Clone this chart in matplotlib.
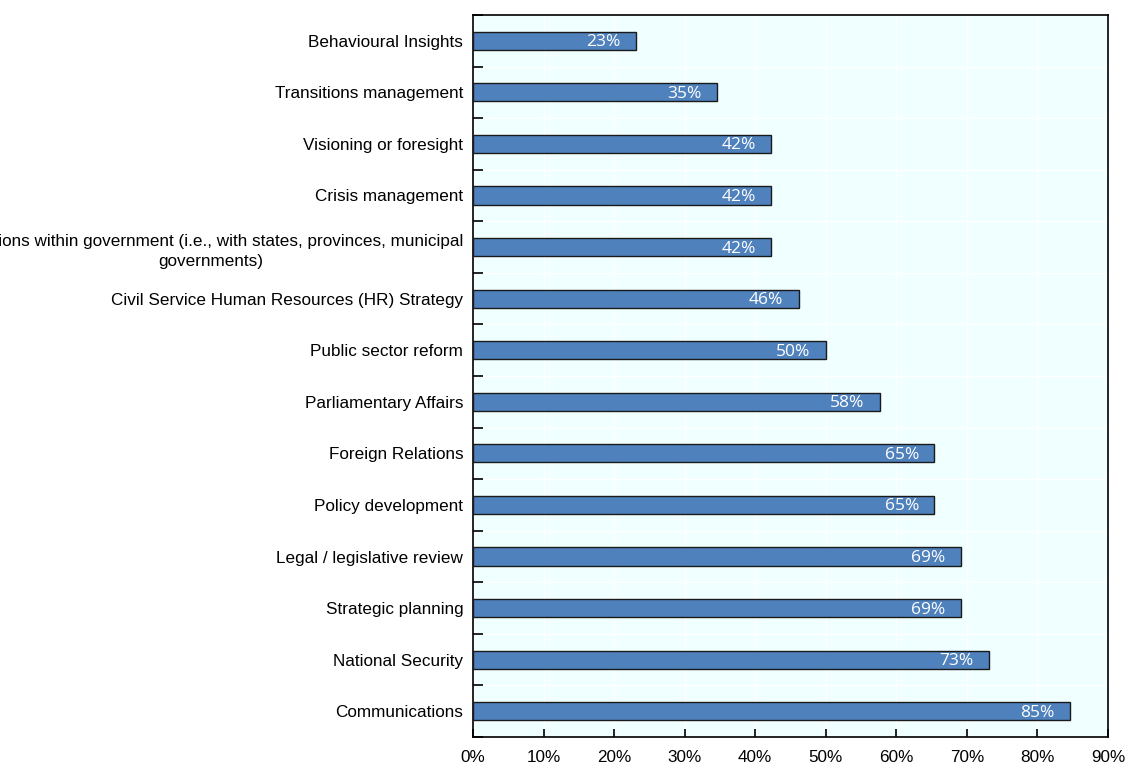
import matplotlib

matplotlib.use("Agg")
import matplotlib.pyplot as plt
import numpy as np
from matplotlib.ticker import FixedLocator, PercentFormatter

# Share of respondents (%) reporting each function, top to bottom
categories = [
    "Behavioural Insights",
    "Transitions management",
    "Visioning or foresight",
    "Crisis management",
    "Relations within government (i.e., with states, provinces, municipal\ngovernments)",
    "Civil Service Human Resources (HR) Strategy",
    "Public sector reform",
    "Parliamentary Affairs",
    "Foreign Relations",
    "Policy development",
    "Legal / legislative review",
    "Strategic planning",
    "National Security",
    "Communications",
]
values = [23.1, 34.6, 42.3, 42.3, 42.3, 46.2, 50.0, 57.7, 65.4, 65.4, 69.2, 69.2, 73.1, 84.6]
x_ticks = [0, 10, 20, 30, 40, 50, 60, 70, 80, 90]

BAR_COLOR = "#4F81BD"
BG_COLOR = "#F0FFFF"

plt.rcParams["font.family"] = ["Liberation Sans", "DejaVu Sans"]

fig = plt.figure(figsize=(11.25, 7.69), dpi=100)
ax = fig.add_axes([0.4204, 0.0416, 0.5645, 0.9389])
ax.set_facecolor(BG_COLOR)

y = np.arange(len(categories))
ax.barh(y, values, height=0.35, color=BAR_COLOR, edgecolor="#1a1a1a", linewidth=1.0, zorder=3)

for yi, v in zip(y, values):
    ax.text(v - 2.2, yi + 0.03, f"{v:.0f}%", ha="right", va="center", color="white",
            fontsize=12.5, family=["Open Sans", "DejaVu Sans"], zorder=4)

ax.set_xlim(0, 90)
ax.set_ylim(len(categories) - 0.5, -0.5)
ax.set_xticks(x_ticks)
ax.xaxis.set_major_formatter(PercentFormatter(decimals=0))
ax.set_yticks(y)
ax.set_yticklabels(categories, multialignment="center", linespacing=1.45)
ax.yaxis.set_minor_locator(FixedLocator(np.arange(len(categories) + 1) - 0.5))

ax.tick_params(axis="x", direction="in", length=6, width=1.2, labelsize=12.3, pad=9)
ax.tick_params(axis="y", which="major", length=0, labelsize=12.3, pad=7)
ax.tick_params(axis="y", which="minor", direction="in", length=7, width=1.2)

ax.grid(axis="x", which="major", color="white", linewidth=1.0, zorder=0)
ax.grid(axis="y", which="minor", color="white", linewidth=1.0, zorder=0)
ax.set_axisbelow(True)

for side in ("left", "bottom", "right", "top"):
    ax.spines[side].set_color("black")
    ax.spines[side].set_linewidth(1.2)

fig.savefig("out.png", dpi=100)
plt.close(fig)
